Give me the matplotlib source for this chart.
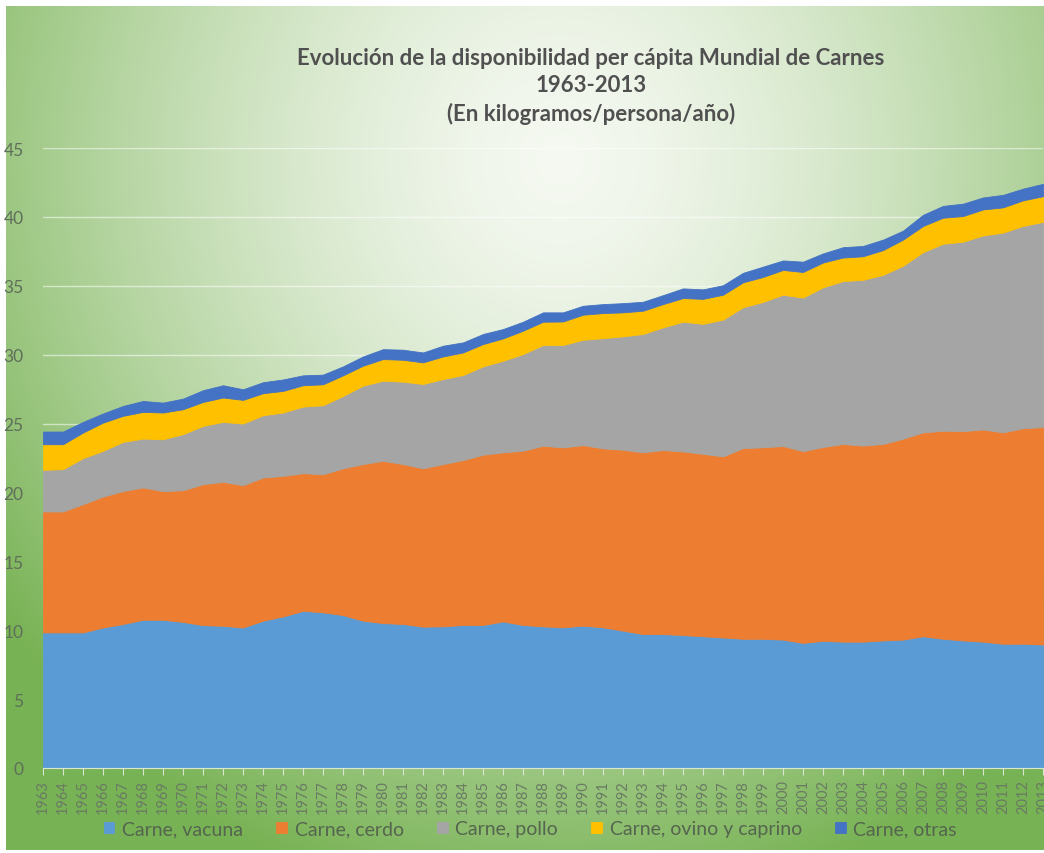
import numpy as np
import matplotlib
matplotlib.use("Agg")
import matplotlib.pyplot as plt

plt.rcParams['font.family'] = ['Lato', 'DejaVu Sans']

# Datos (kg/persona/año)
anios = list(range(1963, 2014))

vacuna = [9.84, 9.84, 9.84, 10.2, 10.45, 10.76, 10.76, 10.6, 10.37, 10.32,
          10.2, 10.69, 11.0, 11.41, 11.3, 11.1, 10.69, 10.52, 10.45, 10.26,
          10.28, 10.38, 10.38, 10.64, 10.38, 10.28, 10.21, 10.33, 10.21, 9.97,
          9.72, 9.72, 9.65, 9.56, 9.47, 9.38, 9.38, 9.32, 9.08, 9.23,
          9.17, 9.17, 9.26, 9.32, 9.56, 9.38, 9.26, 9.17, 9.02, 9.02, 8.96]

cerdo = [8.78, 8.78, 9.31, 9.5, 9.65, 9.6, 9.34, 9.56, 10.23, 10.45,
         10.33, 10.39, 10.2, 9.99, 10.02, 10.65, 11.37, 11.78, 11.61, 11.49,
         11.78, 11.97, 12.36, 12.27, 12.65, 13.11, 13.06, 13.11, 12.99, 13.13,
         13.19, 13.36, 13.33, 13.24, 13.15, 13.84, 13.9, 14.05, 13.92, 14.07,
         14.35, 14.23, 14.26, 14.58, 14.8, 15.1, 15.19, 15.4, 15.34, 15.64, 15.79]

pollo = [3.02, 3.07, 3.34, 3.32, 3.57, 3.55, 3.76, 4.07, 4.23, 4.35,
         4.47, 4.52, 4.6, 4.83, 5.01, 5.25, 5.69, 5.81, 5.98, 6.12,
         6.17, 6.17, 6.41, 6.65, 7.01, 7.31, 7.43, 7.64, 8.0, 8.23,
         8.59, 8.9, 9.41, 9.44, 9.92, 10.22, 10.55, 10.98, 11.14, 11.59,
         11.82, 12.03, 12.27, 12.55, 13.08, 13.57, 13.75, 14.08, 14.5, 14.68, 14.89]

ovino = [1.86, 1.81, 1.86, 2.05, 1.89, 1.94, 1.94, 1.81, 1.74, 1.77,
         1.72, 1.6, 1.57, 1.55, 1.52, 1.5, 1.45, 1.57, 1.59, 1.57,
         1.64, 1.64, 1.62, 1.62, 1.7, 1.69, 1.71, 1.82, 1.82, 1.74,
         1.69, 1.69, 1.72, 1.81, 1.81, 1.81, 1.81, 1.8, 1.86, 1.8,
         1.71, 1.71, 1.8, 1.9, 1.9, 1.89, 1.86, 1.89, 1.83, 1.86, 1.86]

otras = [0.92, 0.92, 0.77, 0.66, 0.72, 0.79, 0.72, 0.77, 0.85, 0.89,
         0.77, 0.8, 0.83, 0.72, 0.7, 0.65, 0.67, 0.72, 0.73, 0.72,
         0.78, 0.73, 0.73, 0.68, 0.65, 0.68, 0.66, 0.65, 0.65, 0.67,
         0.65, 0.65, 0.7, 0.69, 0.69, 0.69, 0.75, 0.69, 0.75, 0.66,
         0.75, 0.75, 0.76, 0.65, 0.81, 0.86, 0.9, 0.87, 0.91, 0.85, 0.9]

etiquetas = ["Carne, vacuna", "Carne, cerdo", "Carne, pollo",
             "Carne, ovino y caprino", "Carne, otras"]
colores = ["#5B9BD5", "#ED7D31", "#A5A5A5", "#FFC000", "#4472C4"]

W, H = 1044, 854
fig = plt.figure(figsize=(W / 100, H / 100), dpi=100)

# Fondo: degradado radial verde
bg = fig.add_axes([0, 0, 1, 1], zorder=0)
xx, yy = np.meshgrid(np.arange(W), np.arange(H))
t = np.sqrt(((xx - 560) / 700.0) ** 2 + ((yy - 160) / 760.0) ** 2)
t = np.clip(t, 0, 1) ** 1.5
c0 = np.array([0.96, 0.975, 0.945])
c1 = np.array([0.47, 0.70, 0.33])
img = c0 + (c1 - c0) * t[..., None]
img[:7, :, :] = 1.0
img[:, :6, :] = 1.0
img[H - 3:, :, :] = 1.0
bg.imshow(img, extent=[0, W, H, 0], aspect='auto')
bg.set_xlim(0, W)
bg.set_ylim(H, 0)
bg.axis('off')

# Área apilada
ax = fig.add_axes([43 / W, 85 / H, 1000 / W, 620 / H], zorder=1)
ax.patch.set_alpha(0)
polys = ax.stackplot(anios, vacuna, cerdo, pollo, ovino, otras,
                     colors=colores, labels=etiquetas, zorder=2)
for p, c in zip(polys, colores):
    p.set_edgecolor(c)
    p.set_linewidth(0.6)

ax.set_xlim(1963, 2013)
ax.set_ylim(0, 45)
ax.set_yticks(range(0, 46, 5))
ax.set_xticks(anios)
ax.set_xticklabels([str(a) for a in anios], rotation=90, fontsize=10.5, color='#6A7A64')
ax.tick_params(axis='y', length=0, labelsize=12.5, labelcolor='#5F6F5A', pad=14)
ax.tick_params(axis='x', length=5, color='#D9E6D0', pad=3)
ax.grid(axis='y', color='white', alpha=0.55, linewidth=1, zorder=0)
ax.set_axisbelow(True)
for s in ['top', 'right', 'left']:
    ax.spines[s].set_visible(False)
ax.spines['bottom'].set_color('#D9E6D0')
ax.spines['bottom'].set_zorder(3)

fig.text(0.566, 0.899,
         "Evolución de la disponibilidad per cápita Mundial de Carnes\n1963-2013\n(En kilogramos/persona/año)",
         ha='center', va='center', fontsize=16, fontweight='bold',
         color='#505050', linespacing=1.38)

leg = fig.legend(loc='center', bbox_to_anchor=(0.508, 1 - 830 / H), ncol=5,
                 frameon=False, fontsize=14, handlelength=0.55, handleheight=0.55,
                 handletextpad=0.4, columnspacing=1.7)
for txt in leg.get_texts():
    txt.set_color('#55654F')

fig.savefig("out.png", dpi=100)
